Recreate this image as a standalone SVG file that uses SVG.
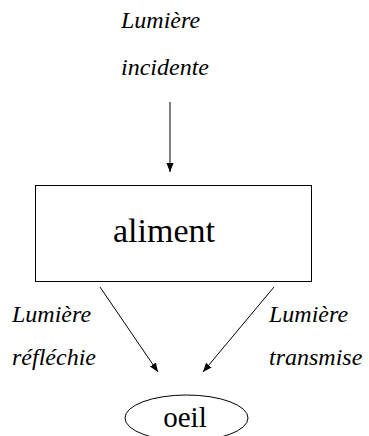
<svg xmlns="http://www.w3.org/2000/svg" width="369" height="436" viewBox="0 0 369 436">
<defs>
<marker id="ah" viewBox="0 0 10 10" refX="10" refY="5" markerWidth="9" markerHeight="9" markerUnits="userSpaceOnUse" orient="auto">
<path d="M0,1 L10,5 L0,9 z" fill="#000"/>
</marker>
</defs>
<rect width="369" height="436" fill="#fff"/>
<g id="label-incidente" font-family="Liberation Serif" font-style="italic" font-size="24">
<text x="121" y="28">Lumière</text>
<text x="121" y="75">incidente</text>
</g>
<g id="label-reflechie" font-family="Liberation Serif" font-style="italic" font-size="24">
<text x="12" y="322">Lumière</text>
<text x="12" y="365">réfléchie</text>
</g>
<g id="label-transmise" font-family="Liberation Serif" font-style="italic" font-size="24">
<text x="269" y="322">Lumière</text>
<text x="269" y="365">transmise</text>
</g>
<g id="aliment">
<rect x="35.5" y="185.5" width="276" height="96" fill="#fff" stroke="#000"/>
<text x="164" y="242" font-family="Liberation Serif" font-size="34" text-anchor="middle">aliment</text>
</g>
<g id="oeil">
<ellipse cx="186.5" cy="418" rx="61.5" ry="23" fill="#fff" stroke="#000"/>
<text x="185" y="427" font-family="Liberation Serif" font-size="29" text-anchor="middle">oeil</text>
</g>
<g id="connectors" stroke="#000" stroke-width="1" fill="none" marker-end="url(#ah)">
<line x1="170" y1="102" x2="170" y2="172"/>
<line x1="100" y1="287" x2="158" y2="372"/>
<line x1="274" y1="287" x2="203" y2="372"/>
</g>
</svg>
